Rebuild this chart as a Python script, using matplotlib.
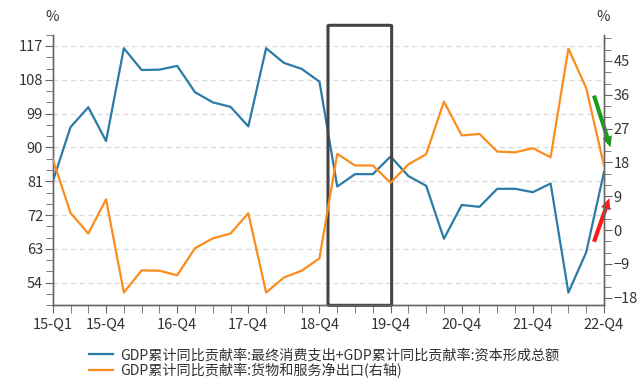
import matplotlib
matplotlib.use("Agg")
import matplotlib.pyplot as plt
from matplotlib.patches import FancyBboxPatch
from matplotlib.ticker import MultipleLocator
import numpy as np

plt.rcParams['font.family'] = ['Noto Sans CJK SC', 'DejaVu Sans']

# quarters 15-Q1 .. 22-Q4
quarters = [f"{y}-Q{q}" for y in range(15, 23) for q in range(1, 5)]

# 最终消费支出 + 资本形成总额 (left axis, %)
domestic = [80.9, 95.4, 100.7, 91.7, 116.4, 110.6, 110.7, 111.7,
            104.7, 102.0, 100.8, 95.6, 116.4, 112.5, 110.9, 107.5,
            79.6, 82.9, 82.9, 87.6, 82.4, 79.8, 65.7, 74.7,
            74.2, 79.0, 79.0, 78.1, 80.4, 51.4, 62.1, 83.4]

# 货物和服务净出口 (right axis, %)
net_export = [18.9, 4.6, -0.9, 8.2, -16.6, -10.7, -10.8, -12.0,
              -4.8, -2.2, -0.9, 4.5, -16.6, -12.6, -10.8, -7.5,
              20.3, 17.2, 17.2, 12.6, 17.5, 20.2, 34.2, 25.2,
              25.6, 20.9, 20.7, 21.8, 19.4, 48.3, 37.8, 17.2]

label_idx = [0, 3, 7, 11, 15, 19, 23, 27, 31]

blue = '#2b7ba8'
orange = '#fb8c1e'
grey = '#666666'
txt = '#333333'

fig = plt.figure(figsize=(6.43, 3.88), dpi=100)
ax = fig.add_axes([0.082, 0.2131, 0.8573, 0.6975])
ax2 = ax.twinx()

x = np.arange(len(quarters))
l1, = ax.plot(x, domestic, color=blue, lw=1.6, zorder=3)
l2, = ax2.plot(x, net_export, color=orange, lw=1.6, zorder=3)

ax.set_xlim(0, 31)
ax.set_ylim(48, 120)
ax2.set_ylim(-20, 52)

ax.set_yticks([54, 63, 72, 81, 90, 99, 108, 117])
ax.yaxis.set_minor_locator(MultipleLocator(3))
ax2.set_yticks([-18, -9, 0, 9, 18, 27, 36, 45])
ax2.yaxis.set_minor_locator(MultipleLocator(3))
ax.set_xticks(x, minor=True)
ax.set_xticks(label_idx)
ax.set_xticklabels([quarters[i] for i in label_idx])

ax.grid(axis='y', which='major', color='#d9d9d9', ls=(0, (4, 3)), lw=0.9)
ax.set_axisbelow(True)

for a in (ax, ax2):
    a.spines['top'].set_visible(False)
    for s in ('left', 'right', 'bottom'):
        a.spines[s].set_color(grey)
        a.spines[s].set_linewidth(1.0)
    a.tick_params(which='major', length=6, color=grey, labelsize=10.5,
                  labelcolor=txt, pad=1)
    a.tick_params(which='minor', length=5, color=grey)
ax.tick_params(axis='x', which='both', length=6, pad=3)

fig.text(0.081, 0.955, '%', ha='center', va='center', fontsize=10.5, color=txt)
fig.text(0.938, 0.955, '%', ha='center', va='center', fontsize=10.5, color=txt)

# highlight box 18-Q4 .. 19-Q4
box = FancyBboxPatch((15.48, 48), 19.06 - 15.48, 122.5 - 48,
                     boxstyle='round,pad=0,rounding_size=0.15',
                     fill=False, ec='#444444', lw=2.2, clip_on=False, zorder=5)
ax.add_patch(box)

# direction arrows
ax.annotate('', xy=(31.37, 90.0), xytext=(30.44, 103.8),
            arrowprops=dict(arrowstyle='simple,head_length=0.8,head_width=0.7,tail_width=0.3',
                            color='#1a9e1a', lw=0, shrinkA=0, shrinkB=0),
            annotation_clip=False, zorder=6)
ax.annotate('', xy=(31.3, 76.5), xytext=(30.44, 64.9),
            arrowprops=dict(arrowstyle='simple,head_length=0.8,head_width=0.7,tail_width=0.3',
                            color='#ff1a1a', lw=0, shrinkA=0, shrinkB=0),
            annotation_clip=False, zorder=6)

fig.legend([l1, l2],
           ['GDP累计同比贡献率:最终消费支出+GDP累计同比贡献率:资本形成总额',
            'GDP累计同比贡献率:货物和服务净出口(右轴)'],
           loc='upper left', bbox_to_anchor=(0.138, 0.102), frameon=False,
           fontsize=10.2, handlelength=1.7, handletextpad=0.5, labelspacing=0.05,
           borderaxespad=0, borderpad=0, labelcolor=txt)

fig.savefig('out.png', dpi=100)
